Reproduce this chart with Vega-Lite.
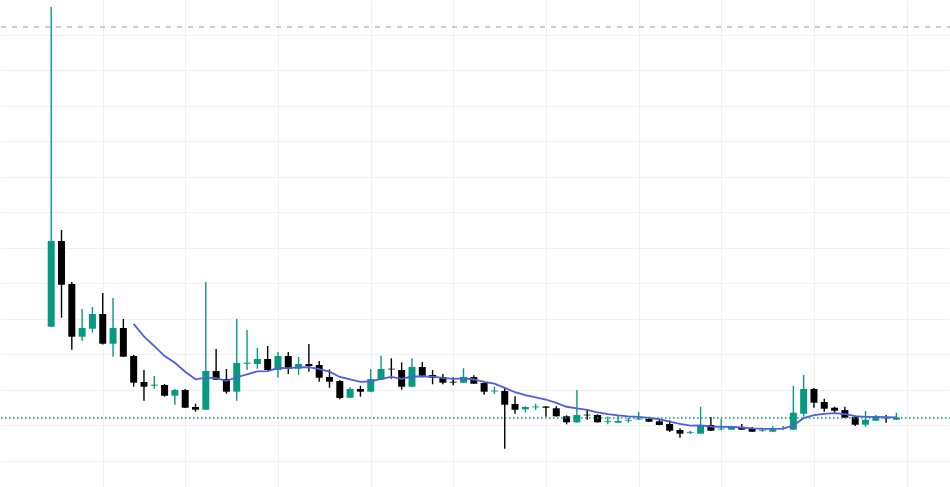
{
  "$schema": "https://vega.github.io/schema/vega-lite/v6.json",
  "width": 950,
  "height": 487,
  "autosize": {"type": "fit", "contains": "padding"},
  "padding": 0,
  "background": "#ffffff",
  "config": {"view": {"stroke": null}},
  "datasets": {
    "candles": [
      {"i":0,"o":47.83,"h":137.89,"l":47.7,"c":71.97},
      {"i":1,"o":71.97,"h":75.07,"l":50.37,"c":59.66},
      {"i":2,"o":59.86,"h":60.42,"l":41.35,"c":45.01},
      {"i":3,"o":45.01,"h":52.82,"l":43.89,"c":47.46},
      {"i":4,"o":47.27,"h":53.38,"l":46.14,"c":51.41},
      {"i":5,"o":51.41,"h":57.32,"l":42.82,"c":43.04},
      {"i":6,"o":43.04,"h":55.92,"l":39.38,"c":47.46},
      {"i":7,"o":47.46,"h":50.0,"l":39.3,"c":39.38},
      {"i":8,"o":39.58,"h":39.86,"l":30.93,"c":32.06,"ema":48.61},
      {"i":9,"o":32.25,"h":35.63,"l":26.99,"c":30.93,"ema":45.07},
      {"i":10,"o":31.2,"h":33.94,"l":30.37,"c":31.5,"ema":42.36},
      {"i":11,"o":31.41,"h":31.69,"l":28.11,"c":28.39,"ema":39.57},
      {"i":12,"o":28.39,"h":30.37,"l":25.86,"c":30.0,"ema":37.66},
      {"i":13,"o":30.0,"h":30.28,"l":24.93,"c":25.01,"ema":35.13},
      {"i":14,"o":25.21,"h":26.14,"l":23.89,"c":24.45,"ema":33.0},
      {"i":15,"o":24.45,"h":60.42,"l":24.37,"c":35.35,"ema":33.47},
      {"i":16,"o":35.35,"h":41.55,"l":32.82,"c":32.9,"ema":33.36},
      {"i":17,"o":33.1,"h":35.92,"l":28.96,"c":29.52,"ema":32.59},
      {"i":18,"o":29.52,"h":50.0,"l":26.99,"c":37.61,"ema":33.59},
      {"i":19,"o":37.4,"h":46.9,"l":35.63,"c":37.7,"ema":34.41},
      {"i":20,"o":37.32,"h":41.83,"l":36.0,"c":38.73,"ema":35.27},
      {"i":21,"o":38.73,"h":42.39,"l":35.55,"c":35.63,"ema":35.34},
      {"i":22,"o":35.63,"h":40.7,"l":33.46,"c":39.58,"ema":36.19},
      {"i":23,"o":39.58,"h":40.7,"l":34.51,"c":36.0,"ema":36.15},
      {"i":24,"o":36.0,"h":39.3,"l":34.31,"c":37.32,"ema":36.38},
      {"i":25,"o":37.32,"h":42.96,"l":35.15,"c":36.76,"ema":36.46},
      {"i":26,"o":37.04,"h":38.17,"l":32.34,"c":33.46,"ema":35.86},
      {"i":27,"o":33.66,"h":35.83,"l":30.65,"c":32.34,"ema":35.16},
      {"i":28,"o":32.54,"h":32.82,"l":27.38,"c":27.75,"ema":33.68},
      {"i":29,"o":27.83,"h":30.76,"l":27.75,"c":30.28,"ema":33.0},
      {"i":30,"o":30.28,"h":31.21,"l":28.11,"c":29.52,"ema":32.3},
      {"i":31,"o":29.52,"h":35.92,"l":29.35,"c":33.1,"ema":32.46},
      {"i":32,"o":32.9,"h":39.66,"l":32.82,"c":35.92,"ema":33.15},
      {"i":33,"o":36.0,"h":38.93,"l":33.18,"c":35.8,"ema":33.68},
      {"i":34,"o":35.63,"h":37.8,"l":30.08,"c":30.93,"ema":33.13},
      {"i":35,"o":30.93,"h":38.93,"l":30.76,"c":36.48,"ema":33.8},
      {"i":36,"o":36.48,"h":37.89,"l":33.58,"c":34.03,"ema":33.85},
      {"i":37,"o":34.23,"h":35.63,"l":31.61,"c":33.46,"ema":33.77},
      {"i":38,"o":33.66,"h":34.51,"l":31.61,"c":32.06,"ema":33.43},
      {"i":39,"o":32.35,"h":33.58,"l":31.32,"c":32.1,"ema":33.16},
      {"i":40,"o":32.06,"h":36.11,"l":31.97,"c":33.66,"ema":33.26},
      {"i":41,"o":33.66,"h":34.14,"l":31.69,"c":31.77,"ema":32.96},
      {"i":42,"o":31.97,"h":32.25,"l":28.68,"c":29.52,"ema":32.27},
      {"i":43,"o":29.6,"h":30.93,"l":28.87,"c":29.85,"ema":31.79},
      {"i":44,"o":29.72,"h":30.65,"l":13.46,"c":25.86,"ema":30.6},
      {"i":45,"o":26.06,"h":28.23,"l":23.32,"c":24.45,"ema":29.37},
      {"i":46,"o":24.56,"h":25.41,"l":23.72,"c":25.21,"ema":28.54},
      {"i":47,"o":25.1,"h":26.14,"l":24.37,"c":25.35,"ema":27.9},
      {"i":48,"o":25.35,"h":25.45,"l":22.48,"c":25.0,"ema":27.32},
      {"i":49,"o":24.85,"h":25.41,"l":22.54,"c":22.59,"ema":26.37},
      {"i":50,"o":22.59,"h":22.87,"l":20.34,"c":20.9,"ema":25.28},
      {"i":51,"o":20.9,"h":30.0,"l":20.8,"c":22.96,"ema":24.82},
      {"i":52,"o":23.05,"h":24.56,"l":21.63,"c":22.85,"ema":24.43},
      {"i":53,"o":22.96,"h":23.15,"l":20.8,"c":20.9,"ema":23.72},
      {"i":54,"o":20.95,"h":22.54,"l":20.34,"c":21.2,"ema":23.22},
      {"i":55,"o":20.79,"h":22.76,"l":20.75,"c":21.27,"ema":22.83},
      {"i":56,"o":21.35,"h":22.2,"l":20.79,"c":21.6,"ema":22.58},
      {"i":57,"o":21.7,"h":23.8,"l":21.55,"c":21.95,"ema":22.45},
      {"i":58,"o":21.83,"h":22.48,"l":21.04,"c":21.07,"ema":22.17},
      {"i":59,"o":21.18,"h":21.75,"l":20.08,"c":20.14,"ema":21.76},
      {"i":60,"o":20.42,"h":21.46,"l":18.17,"c":18.54,"ema":21.12},
      {"i":61,"o":18.73,"h":19.21,"l":16.56,"c":17.69,"ema":20.43},
      {"i":62,"o":17.95,"h":18.45,"l":17.61,"c":18.2,"ema":19.98},
      {"i":63,"o":17.69,"h":25.21,"l":17.65,"c":20.14,"ema":20.01},
      {"i":64,"o":20.14,"h":22.39,"l":18.5,"c":18.54,"ema":19.72},
      {"i":65,"o":18.9,"h":21.83,"l":18.65,"c":19.15,"ema":19.61},
      {"i":66,"o":18.82,"h":19.66,"l":18.8,"c":19.58,"ema":19.6},
      {"i":67,"o":19.58,"h":20.42,"l":18.78,"c":18.82,"ema":19.44},
      {"i":68,"o":19.01,"h":19.58,"l":18.2,"c":18.25,"ema":19.2},
      {"i":69,"o":18.42,"h":19.21,"l":18.25,"c":18.65,"ema":19.09},
      {"i":70,"o":18.25,"h":19.77,"l":18.22,"c":19.01,"ema":19.07},
      {"i":71,"o":19.0,"h":19.86,"l":18.82,"c":19.2,"ema":19.1},
      {"i":72,"o":18.82,"h":31.13,"l":18.8,"c":23.61,"ema":20.0},
      {"i":73,"o":23.32,"h":34.23,"l":22.48,"c":30.28,"ema":22.06},
      {"i":74,"o":30.28,"h":30.56,"l":25.01,"c":26.42,"ema":22.93},
      {"i":75,"o":26.62,"h":27.55,"l":23.89,"c":24.73,"ema":23.29},
      {"i":76,"o":25.01,"h":25.3,"l":23.61,"c":24.17,"ema":23.47},
      {"i":77,"o":24.37,"h":25.3,"l":22.11,"c":22.2,"ema":23.22},
      {"i":78,"o":22.39,"h":22.76,"l":19.86,"c":20.23,"ema":22.62},
      {"i":79,"o":20.23,"h":24.08,"l":19.66,"c":21.63,"ema":22.42},
      {"i":80,"o":21.35,"h":22.96,"l":21.32,"c":22.48,"ema":22.43},
      {"i":81,"o":22.2,"h":22.96,"l":20.79,"c":22.0,"ema":22.34},
      {"i":82,"o":21.63,"h":23.61,"l":21.6,"c":22.2,"ema":22.31}
    ]
  },
  "encoding": {
    "x": {
      "field": "i",
      "type": "quantitative",
      "scale": {"domain": [-4.87, 87.1], "nice": false, "zero": false, "padding": 0},
      "axis": {
        "values": [5, 13, 22, 31, 39, 48, 57, 65, 74, 83],
        "labels": false, "ticks": false, "domain": false, "title": null,
        "grid": true, "gridColor": "#eff0f2", "gridWidth": 1
      }
    }
  },
  "layer": [
    {
      "data": {"name": "candles"},
      "mark": {"type": "rule", "strokeWidth": 1.4},
      "encoding": {
        "y": {
          "field": "l", "type": "quantitative",
          "scale": {"domain": [2.676, 139.859], "nice": false, "zero": false, "padding": 0},
          "axis": {
            "values": [10, 20, 30, 40, 50, 60, 70, 80, 90, 100, 110, 120, 130],
            "labels": false, "ticks": false, "domain": false, "title": null,
            "grid": true, "gridColor": "#eff0f2", "gridWidth": 1
          }
        },
        "y2": {"field": "h"},
        "color": {"condition": {"test": "datum.o <= datum.c", "value": "#089981"}, "value": "#000000"}
      }
    },
    {
      "data": {"name": "candles"},
      "mark": {"type": "bar", "size": 7},
      "encoding": {
        "y": {"field": "o", "type": "quantitative"},
        "y2": {"field": "c"},
        "color": {"condition": {"test": "datum.o <= datum.c", "value": "#089981"}, "value": "#000000"}
      }
    },
    {
      "data": {"name": "candles"},
      "mark": {"type": "line", "color": "#4f5fdb", "strokeWidth": 1.8},
      "encoding": {
        "y": {"field": "ema", "type": "quantitative"}
      }
    },
    {
      "data": {"values": [{"level": 132.25}]},
      "mark": {"type": "rule", "color": "#9a9a9a", "strokeWidth": 1.2, "strokeDash": [5, 6]},
      "encoding": {
        "x": {"value": 0},
        "x2": {"value": 950},
        "y": {"field": "level", "type": "quantitative"}
      }
    },
    {
      "data": {"values": [{"level": 22.11}]},
      "mark": {"type": "rule", "color": "#089981", "strokeWidth": 1.4, "strokeDash": [1.5, 2.5]},
      "encoding": {
        "x": {"value": 0},
        "x2": {"value": 950},
        "y": {"field": "level", "type": "quantitative"}
      }
    }
  ]
}
